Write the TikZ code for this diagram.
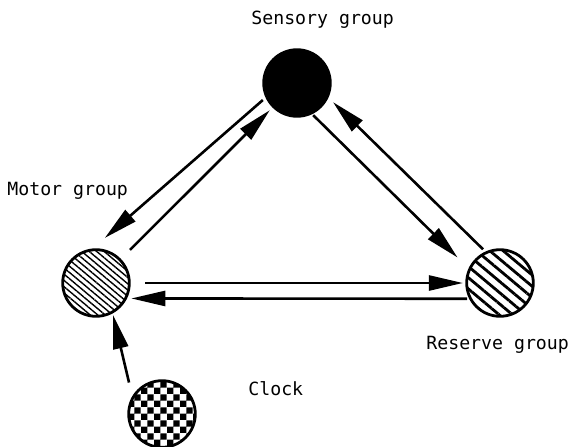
\documentclass[tikz,border=0pt]{standalone}
\usepackage{fontspec}
\newfontfamily\labelfont{DejaVu Sans Mono}
\usetikzlibrary{arrows.meta,patterns,patterns.meta}

% checkerboard fill for the clock
\pgfdeclarepatternformonly{clockboard}{\pgfpointorigin}{\pgfqpoint{6.4pt}{6.4pt}}{\pgfqpoint{6.4pt}{6.4pt}}{%
  \pgfpathrectangle{\pgfpointorigin}{\pgfqpoint{3.2pt}{3.2pt}}%
  \pgfpathrectangle{\pgfqpoint{3.2pt}{3.2pt}}{\pgfqpoint{3.2pt}{3.2pt}}%
  \pgfusepath{fill}}

\begin{document}
\begin{tikzpicture}[x=0.5pt, y=-0.5pt,
    group/.style={circle, draw, line width=1.4pt, minimum size=33.3pt, inner sep=0pt},
    lbl/.style={font=\labelfont\fontsize{9.1pt}{11pt}\selectfont, anchor=base west, inner sep=0pt},
    arr/.style={line width=1.3pt, -{Triangle[length=17pt,width=7.5pt]}}]
  \useasboundingbox (0,0) rectangle (569,446);

  % groups
  \node[group, fill=black] (sens) at (297,83) {};
  \node[group, pattern={Lines[angle=-40,distance=2.4pt,line width=0.7pt]}] (motor) at (96,283) {};
  \node[group, pattern={Lines[angle=-40,distance=4.3pt,line width=1.4pt]}] (res) at (500,283) {};
  \node[group, pattern=clockboard] (clock) at (162,414) {};

  % labels
  \node[lbl] (senslbl) at (251,24) {Sensory group};
  \node[lbl] (motorlbl) at (7,195) {Motor group};
  \node[lbl] (reslbl) at (426,349) {Reserve group};
  \node[lbl] (clocklbl) at (248,395) {Clock};

  % sensory <-> motor
  \draw[arr, shorten <=1.8pt, shorten >=8.6pt] (sens.205) -- (motor.97);
  \draw[arr, shorten <=6.7pt, shorten >=1.9pt] (motor.44) -- (sens.225);

  % sensory <-> reserve
  \draw[arr, shorten <=0.7pt, shorten >=7.7pt] (sens.296) -- (res.155);
  \draw[arr, shorten <=1.6pt, shorten >=3.2pt] (res.115) -- (sens.335);

  % motor <-> reserve
  \draw[arr, shorten <=7.5pt, shorten >=1.2pt] (motor.east) -- (res.west);
  \draw[arr, shorten <=1pt, shorten >=2.5pt] (res.207) -- (motor.333);

  % clock -> motor
  \draw[arr, shorten <=7pt, shorten >=1.1pt] (clock.149) -- (motor.299);
\end{tikzpicture}
\end{document}
